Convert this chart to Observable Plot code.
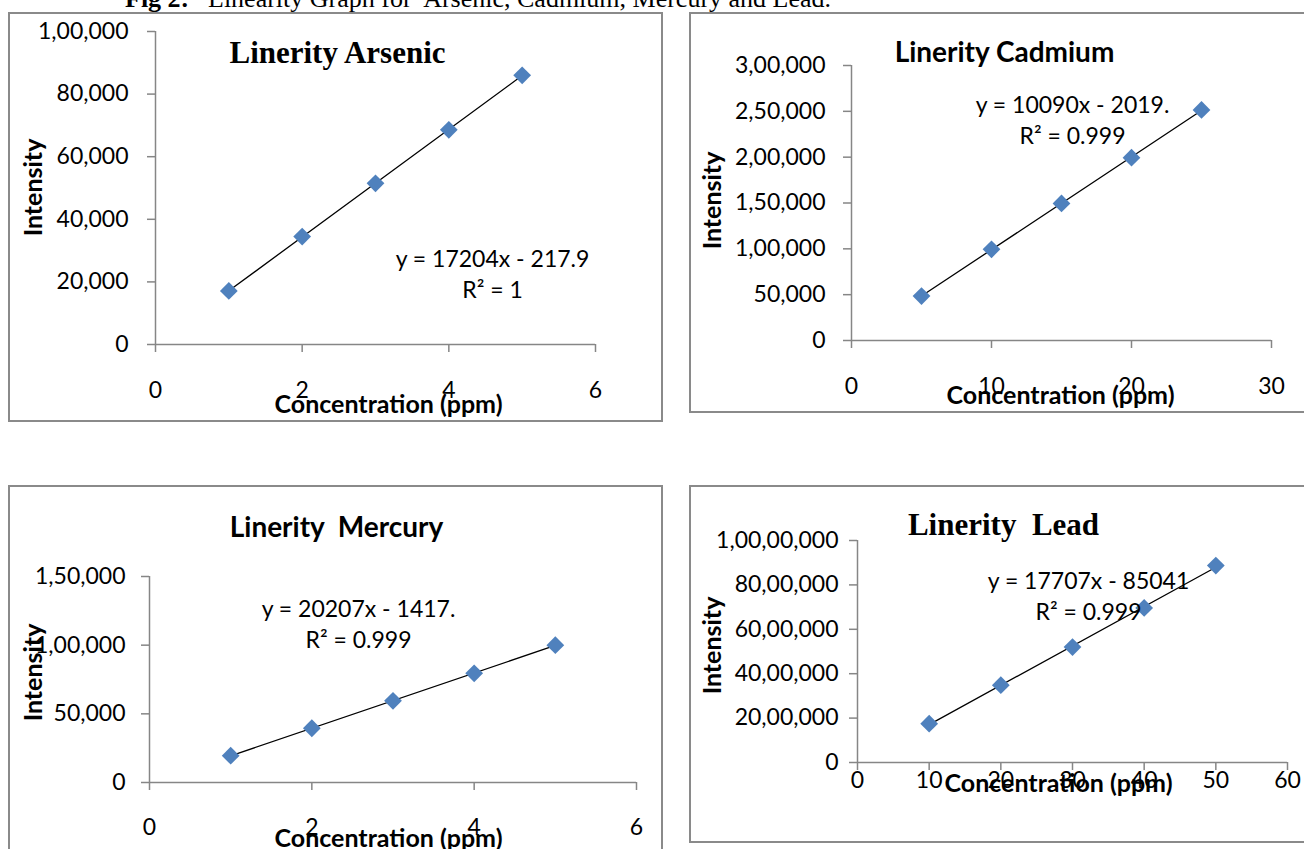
<!DOCTYPE html>
<html>
<head>
<meta charset="utf-8">
<script src="https://cdn.jsdelivr.net/npm/d3@7"></script>
<script src="https://cdn.jsdelivr.net/npm/@observablehq/plot@0.6"></script>
<style>
  html, body { margin: 0; padding: 0; background: #fff; }
  body { width: 1304px; height: 849px; overflow: hidden; position: relative; }
  .wrap { position: absolute; }
  .box { position: absolute; box-sizing: border-box; border: 2px solid #8a8a8a; pointer-events: none; }
  .cap { position: absolute; font-family: "Liberation Serif", "Times New Roman", serif; font-size: 26px; line-height: 26px; white-space: pre; color: #000; }
  g[aria-label^="x-axis"] line, g[aria-label^="y-axis"] line,
  g[aria-label="x-axis tick"] path, g[aria-label="y-axis tick"] path { stroke: #868686; stroke-width: 1.5; }
</style>
</head>
<body>
<div class="cap" style="left:125px; top:-14px; font-weight:bold;">Fig 2:</div>
<div class="cap" style="left:208px; top:-14px;">Linearity Graph for  Arsenic, Cadmium, Mercury and Lead.</div>
<script>
// ---- data ----
const arsenicConc = [1, 2, 3, 4, 5];
const arsenicIntensity = [17100, 34500, 51500, 68600, 86000];
const cadmiumConc = [5, 10, 15, 20, 25];
const cadmiumIntensity = [48500, 99500, 149500, 199500, 251500];
const mercuryConc = [1, 2, 3, 4, 5];
const mercuryIntensity = [19500, 39500, 59500, 79500, 100000];
const leadConc = [10, 20, 30, 40, 50];
const leadIntensity = [1750000, 3480000, 5200000, 6960000, 8870000];

const arsenicXTicks = [0, 2, 4, 6];
const arsenicYTicks = [0, 20000, 40000, 60000, 80000, 100000];
const arsenicYLabels = ["0", "20,000", "40,000", "60,000", "80,000", "1,00,000"];
const cadmiumXTicks = [0, 10, 20, 30];
const cadmiumYTicks = [0, 50000, 100000, 150000, 200000, 250000, 300000];
const cadmiumYLabels = ["0", "50,000", "1,00,000", "1,50,000", "2,00,000", "2,50,000", "3,00,000"];
const mercuryXTicks = [0, 2, 4, 6];
const mercuryYTicks = [0, 50000, 100000, 150000];
const mercuryYLabels = ["0", "50,000", "1,00,000", "1,50,000"];
const leadXTicks = [0, 10, 20, 30, 40, 50, 60];
const leadYTicks = [0, 2000000, 4000000, 6000000, 8000000, 10000000];
const leadYLabels = ["0", "20,00,000", "40,00,000", "60,00,000", "80,00,000", "1,00,00,000"];

const titles = ["Linerity Arsenic", "Linerity Cadmium", "Linerity  Mercury", "Linerity  Lead"];
const equations = ["y = 17204x - 217.9\nR² = 1", "y = 10090x - 2019.\nR² = 0.999", "y = 20207x - 1417.\nR² = 0.999", "y = 17707x - 85041\nR² = 0.999"];
const xTitle = "Concentration (ppm)";
const yTitle = "Intensity";

// ---- layout ----
const SANS = "Lato, 'Open Sans', sans-serif";
const SERIF = "'Liberation Serif', 'Times New Roman', serif";
const panels = [
  { conc: arsenicConc, inten: arsenicIntensity, xTicks: arsenicXTicks, yTicks: arsenicYTicks, yLabels: arsenicYLabels,
    title: titles[0], titleFont: SERIF, titleSize: 31, eq: equations[0],
    L: 8, T: 12, W: 655, H: 410, mL: 147, mR: 68, mT: 19, mB: 78, xPad: 29, yPad: 19,
    tPos: [182, 22], ePos: [337, 241], yPos: [-122, 156], xPos: [233, 373] },
  { conc: cadmiumConc, inten: cadmiumIntensity, xTicks: cadmiumXTicks, yTicks: cadmiumYTicks, yLabels: cadmiumYLabels,
    title: titles[1], titleFont: SANS, titleSize: 28, eq: equations[1],
    L: 689, T: 12, W: 631, H: 401, mL: 162, mR: 49, mT: 53, mB: 73, xPad: 29, yPad: 18,
    tPos: [153, -12], ePos: [221, 53], yPos: [-139, 135], xPos: [209, 330] },
  { conc: mercuryConc, inten: mercuryIntensity, xTicks: mercuryXTicks, yTicks: mercuryYTicks, yLabels: mercuryYLabels,
    title: titles[2], titleFont: SANS, titleSize: 28, eq: equations[2],
    L: 8, T: 485, W: 655, H: 375, mL: 141, mR: 27, mT: 91, mB: 78, xPad: 28, yPad: 16,
    tPos: [187, -48], ePos: [209, 46], yPos: [-116, 96], xPos: [239, 262] },
  { conc: leadConc, inten: leadIntensity, xTicks: leadXTicks, yTicks: leadYTicks, yLabels: leadYLabels,
    title: titles[3], titleFont: SERIF, titleSize: 31, eq: equations[3],
    L: 689, T: 485, W: 631, H: 358, mL: 168, mR: 33, mT: 55, mB: 81, xPad: 1, yPad: 11,
    tPos: [146, -15], ePos: [231, 54], yPos: [-145, 105], xPos: [201, 243] }
];

for (const p of panels) {
  const data = p.conc.map((c, i) => ({ c, v: p.inten[i] }));
  const yMap = new Map(p.yTicks.map((t, i) => [t, p.yLabels[i]]));
  const chart = Plot.plot({
    width: p.W, height: p.H,
    marginLeft: p.mL, marginRight: p.mR, marginTop: p.mT, marginBottom: p.mB,
    style: { fontFamily: SANS, fontSize: "23px", color: "#000", background: "transparent", overflow: "visible" },
    x: { domain: [0, p.xTicks[p.xTicks.length - 1]], ticks: p.xTicks, tickFormat: d => String(d), tickSize: 8, tickPadding: p.xPad, label: null },
    y: { domain: [0, p.yTicks[p.yTicks.length - 1]], ticks: p.yTicks, tickFormat: d => yMap.get(d), tickSize: 8, tickPadding: p.yPad, label: null },
    marks: [
      Plot.ruleX([0], { stroke: "#868686", strokeWidth: 1.5 }),
      Plot.ruleY([0], { stroke: "#868686", strokeWidth: 1.5 }),
      Plot.linearRegressionY(data, { x: "c", y: "v", ci: 0, stroke: "#000", strokeWidth: 1.3 }),
      Plot.dot(data, { x: "c", y: "v", symbol: "diamond2", r: 8, fill: "#4F81BD", stroke: "none" }),
      Plot.text([p.title], { text: d => d, frameAnchor: "top-left", dx: p.tPos[0], dy: p.tPos[1], fontFamily: p.titleFont, fontSize: p.titleSize, fontWeight: "bold", textAnchor: "middle", lineAnchor: "middle", fill: "#000" }),
      Plot.text([p.eq], { text: d => d, frameAnchor: "top-left", dx: p.ePos[0], dy: p.ePos[1], fontFamily: SANS, fontSize: 23, textAnchor: "middle", lineAnchor: "middle", lineHeight: 1.35, fill: "#000" }),
      Plot.text([yTitle], { text: d => d, frameAnchor: "top-left", dx: p.yPos[0], dy: p.yPos[1], rotate: -90, fontFamily: SANS, fontSize: 25, fontWeight: "bold", textAnchor: "middle", lineAnchor: "middle", fill: "#000" }),
      Plot.text([xTitle], { text: d => d, frameAnchor: "top-left", dx: p.xPos[0], dy: p.xPos[1], fontFamily: SANS, fontSize: 25, fontWeight: "bold", textAnchor: "middle", lineAnchor: "middle", fill: "#000" })
    ]
  });
  const wrap = document.createElement("div");
  wrap.className = "wrap";
  Object.assign(wrap.style, { left: p.L + "px", top: p.T + "px", width: p.W + "px", height: p.H + "px" });
  wrap.appendChild(chart);
  document.body.appendChild(wrap);
  const box = document.createElement("div");
  box.className = "box";
  Object.assign(box.style, { left: p.L + "px", top: p.T + "px", width: p.W + "px", height: p.H + "px" });
  document.body.appendChild(box);
}
</script>
</body>
</html>
